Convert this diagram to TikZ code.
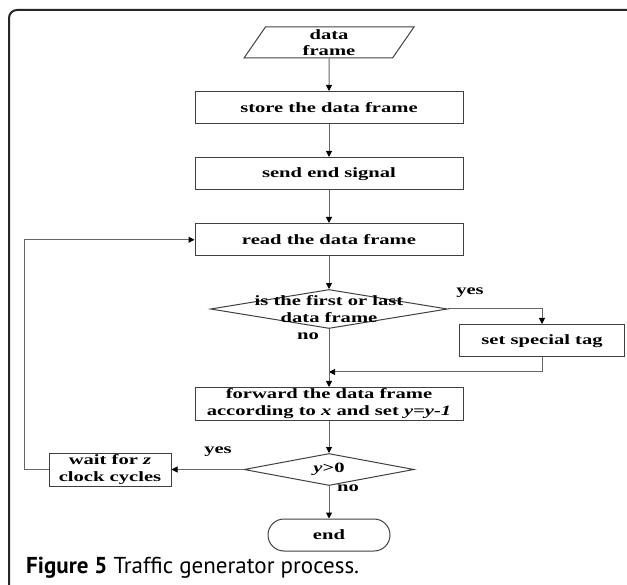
\documentclass[tikz,border=0pt]{standalone}
\usepackage{fontspec}
\setmainfont{Liberation Serif}
\newfontfamily\chartfont[FakeStretch=1.45]{Liberation Serif}
\newfontfamily\capfont{PT Sans}
\usetikzlibrary{arrows.meta, shapes.geometric, shapes.misc, positioning}

\begin{document}
\begin{tikzpicture}[
  x=1pt, y=-1pt,
  node distance=32.5pt,
  every node/.style={font=\chartfont\fontsize{14.2}{16.5}\selectfont\bfseries},
  box/.style={rectangle, draw=black!75, line width=1pt, minimum width=268pt,
              minimum height=32.5pt, inner sep=0pt, align=center},
  iobox/.style={trapezium, trapezium left angle=51, trapezium right angle=129,
                trapezium stretches body, draw=black!75, line width=1pt,
                minimum width=170pt, minimum height=31pt, inner sep=0pt, align=center},
  decision/.style={diamond, draw=black!75, line width=1pt, inner sep=0pt},
  termbox/.style={rounded rectangle, draw=black!75, line width=1pt,
                  minimum width=122pt, minimum height=32pt, inner sep=0pt},
  lbl/.style={inner sep=0pt, align=center},
  arr/.style={draw=black!60, line width=1pt, -{Triangle[length=6pt,width=6pt,color=black]}}
]
\useasboundingbox (0,0) rectangle (627,585);

% outer frame
\draw[black!85, line width=2pt, rounded corners=8pt] (9,585) |- (627,10);

\node[iobox] (data) at (329,42.5) {data\\frame};
\node[box, below=of data]  (store) {store the data frame};
\node[box, below=of store] (send)  {send end signal};
\node[box, below=of send]  (read)  {read the data frame};

\node[decision, below=of read, minimum width=237pt, minimum height=39pt] (dec1) {};
\node[lbl] (dec1txt) at (dec1) {is the first or last\\data frame};

\node[box, anchor=north west, minimum width=165pt] (tag) at (459,324) {set special tag};

\node[box, below=58pt of dec1] (fwd) {forward the data frame\\according to \textit{x} and set \textit{y=y-1}};

\node[decision, below=of fwd, minimum width=170pt, minimum height=32pt] (dec2) {};
\node[lbl] (dec2txt) at (dec2) {\textit{y}>0};

\node[box, left=72pt of dec2, minimum width=122pt, minimum height=33pt] (wait) {wait for \textit{z}\\clock cycles};

\node[termbox, below=of dec2] (end) {end};

% branch labels
\node[lbl] (yes1) at (470,293) {yes};
\node[lbl] (no1)  at (308,336) {no};
\node[lbl] (yes2) at (218,452) {yes};
\node[lbl] (no2)  at (348,488) {no};

\coordinate (join) at (329,372);

\draw[arr] (data) -- (store);
\draw[arr] (store) -- (send);
\draw[arr] (send) -- (read);
\draw[arr] (read) -- (dec1);
\draw[arr] (dec1.east) -| (tag.north);
\draw[arr] (tag.south) |- (join);
\draw[arr] (dec1.south) -- (fwd.north);
\draw[arr] (fwd) -- (dec2);
\draw[arr] (dec2.west) -- (wait.east);
\draw[arr] (wait.west) -- ++(-24,0) |- (read.west);
\draw[arr] (dec2.south) -- (end.north);

\node[anchor=base west, inner sep=0pt, font=\capfont\fontsize{23}{27}\selectfont] (caption)
  at (26,573) {\textbf{Figure 5} Traffic generator process.};

\end{tikzpicture}
\end{document}
